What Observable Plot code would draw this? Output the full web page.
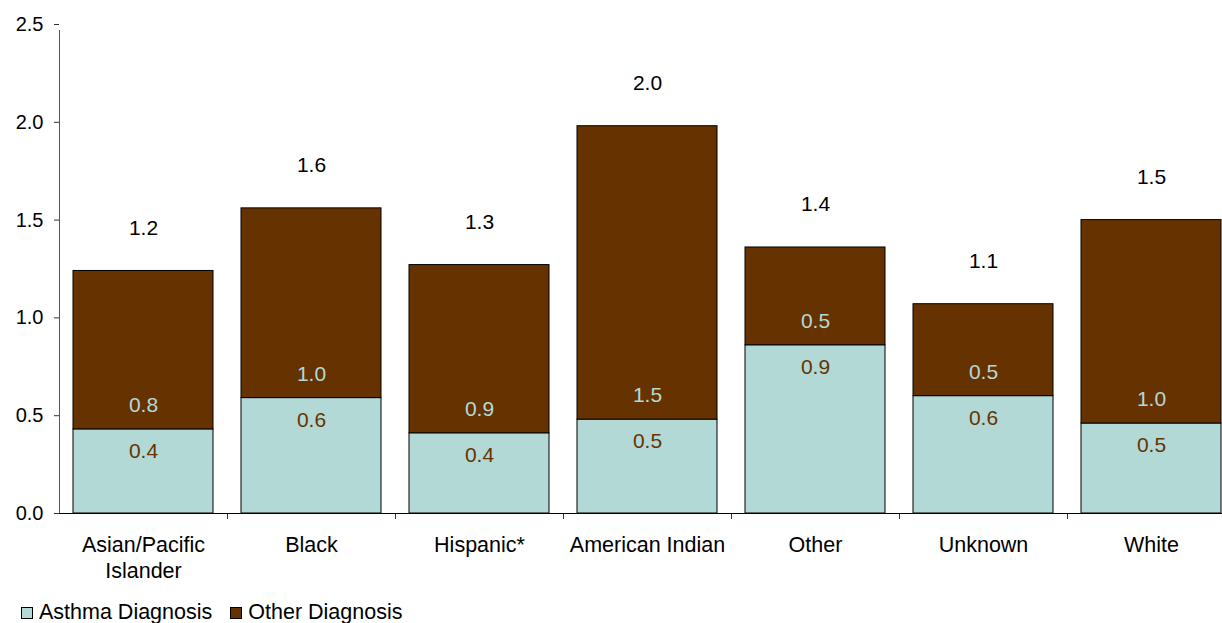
<!DOCTYPE html>
<html>
<head>
<meta charset="utf-8">
<script src="https://cdn.jsdelivr.net/npm/d3@7"></script>
<script src="https://cdn.jsdelivr.net/npm/@observablehq/plot@0.6"></script>
<style>
  html, body { margin: 0; padding: 0; background: #fff; overflow: hidden; }
  body { font-family: "Liberation Sans", Arial, sans-serif; }
  #chart svg { display: block; }
  .legend { display: flex; align-items: center; height: 25px; padding-left: 21px; font-size: 21.5px; color: #000; line-height: 25px; }
  .legend .item { display: flex; align-items: center; }
  .legend .swatch { width: 12px; height: 12px; box-sizing: border-box; border: 1px solid #000; margin-right: 6px; }
  .legend .item + .item { margin-left: 18px; }
</style>
</head>
<body>
<div id="chart"></div>
<div class="legend" id="legend"></div>
<script>
// Race / ethnicity groups along the x axis
const categories = ["Asian/Pacific Islander", "Black", "Hispanic*", "American Indian", "Other", "Unknown", "White"];
const categoryLabels = ["Asian/Pacific\nIslander", "Black", "Hispanic*", "American Indian", "Other", "Unknown", "White"];

// Rates by diagnosis type
const asthmaDiagnosis = [0.43, 0.59, 0.41, 0.48, 0.86, 0.60, 0.46];
const otherDiagnosis  = [0.81, 0.97, 0.86, 1.50, 0.50, 0.47, 1.04];

const seriesNames = ["Asthma Diagnosis", "Other Diagnosis"];
const yTicks = [0, 0.5, 1.0, 1.5, 2.0, 2.5];

const colors = { asthma: "#b3d9d7", other: "#663300" };

// long-format rows for stacking
const rows = [];
categories.forEach((c, i) => {
  rows.push({ group: c, series: seriesNames[0], value: asthmaDiagnosis[i] });
  rows.push({ group: c, series: seriesNames[1], value: otherDiagnosis[i] });
});
const perGroup = categories.map((c, i) => ({
  group: c,
  asthma: asthmaDiagnosis[i],
  other: otherDiagnosis[i],
  total: asthmaDiagnosis[i] + otherDiagnosis[i]
}));

const fmt = d3.format(".1f");
const xRange = [59, 1235];
const step = (xRange[1] - xRange[0]) / categories.length;

const chart = Plot.plot({
  width: 1222,
  height: 600,
  marginLeft: 59,
  marginRight: 0,
  marginTop: 24,
  marginBottom: 87,
  style: { fontFamily: "'Liberation Sans', Arial, sans-serif", fontSize: "21px", color: "#000", background: "#fff" },
  x: { type: "band", domain: categories, range: xRange, paddingInner: 1 / 6, paddingOuter: 1 / 12, label: null },
  y: { domain: [0, 2.5], nice: false, label: null },
  color: { domain: seriesNames, range: [colors.asthma, colors.other] },
  marks: [
    Plot.barY(rows, Plot.stackY({ x: "group", y: "value", fill: "series", stroke: "#000", strokeWidth: 1, order: null })),
    // vertical axis line
    Plot.ruleX([categories[0]], { x: d => d, dx: -step / 2, y1: 0, y2: 2.5, insetBottom: -6, stroke: "#555" }),
    // separator ticks between groups
    Plot.ruleX(categories.slice(1), { x: d => d, dx: -step / 2, y1: 0, y2: 0, insetBottom: -6, stroke: "#333" }),
    Plot.ruleY([0], { stroke: "#000" }),
    Plot.axisY({ ticks: yTicks, tickFormat: fmt, tickSize: 5, tickPadding: 11, fontSize: 20, stroke: "#333", fill: "#000" }),
    Plot.axisX({
      tickSize: 0, tickPadding: 19, fontSize: 21.5, lineHeight: 1.25, fill: "#000", label: null,
      tickFormat: d => categoryLabels[categories.indexOf(d)]
    }),
    // value labels
    Plot.text(perGroup, { x: "group", y: "asthma", text: d => fmt(d.asthma), dy: 22, fill: colors.other, fontSize: 21 }),
    Plot.text(perGroup, { x: "group", y: "asthma", text: d => fmt(d.other), dy: -24, fill: colors.asthma, fontSize: 21 }),
    Plot.text(perGroup, { x: "group", y: "total", text: d => fmt(d.total), dy: -43, fill: "#000", fontSize: 21 })
  ]
});
document.getElementById("chart").appendChild(chart);

// legend below the chart
const legend = d3.select("#legend");
seriesNames.forEach((name, i) => {
  const item = legend.append("div").attr("class", "item");
  item.append("div").attr("class", "swatch").style("background", i === 0 ? colors.asthma : colors.other);
  item.append("span").text(name);
});
</script>
</body>
</html>
